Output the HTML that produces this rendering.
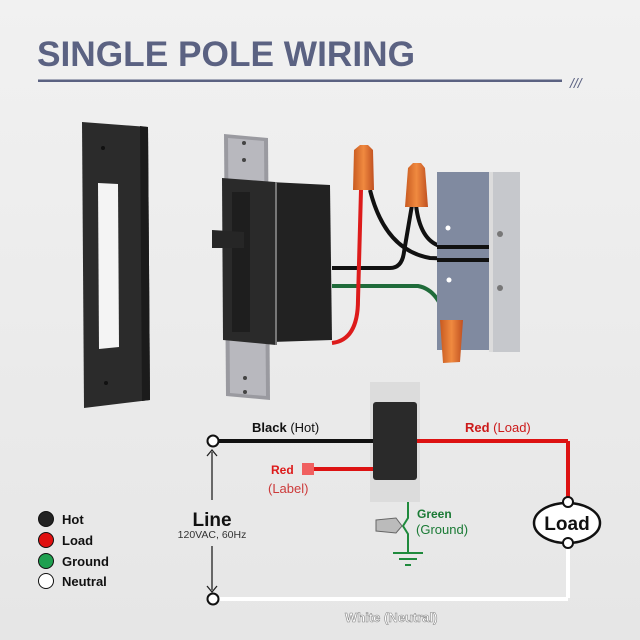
<!DOCTYPE html>
<html><head><meta charset="utf-8"><style>
html,body{margin:0;padding:0;background:#ececec}
svg{display:block}
text{font-family:"Liberation Sans",sans-serif}
</style></head><body>
<svg width="640" height="640" viewBox="0 0 640 640" xmlns="http://www.w3.org/2000/svg">
<defs>
<linearGradient id="bg" x1="0" y1="0" x2="0" y2="1"><stop offset="0" stop-color="#f1f1f1"/><stop offset="1" stop-color="#e6e6e6"/></linearGradient>
<linearGradient id="nut" x1="0" y1="0" x2="1" y2="0"><stop offset="0" stop-color="#c85a20"/><stop offset=".5" stop-color="#f08a40"/><stop offset="1" stop-color="#c05020"/></linearGradient>
</defs>
<rect width="640" height="640" fill="url(#bg)"/>
<!-- title -->
<text x="37" y="66" font-size="35" font-weight="bold" fill="#5b6282" textLength="378" lengthAdjust="spacingAndGlyphs">SINGLE POLE WIRING</text>
<rect x="38" y="79.5" width="524" height="2.5" fill="#5b6282"/>
<text x="570" y="88" font-size="14" fill="#5b6282" font-style="italic">///</text>

<!-- wall plate -->
<polygon points="82,122 148,127 150,400 84,408" fill="#2b2b2b"/>
<polygon points="140,126 148,127 150,400 142,401" fill="#1b1b1b"/>
<polygon points="98,183 118,184 119,347 99,349" fill="#f4f4f4"/>
<circle cx="103" cy="148" r="2" fill="#111"/><circle cx="106" cy="383" r="2" fill="#111"/>

<!-- switch strap -->
<polygon points="224,134 268,138 270,400 226,396" fill="#9a9aa0"/>
<polygon points="228,138 264,141 266,396 230,393" fill="#b8b8be"/>
<circle cx="244" cy="143" r="2" fill="#444"/><circle cx="244" cy="160" r="2" fill="#444"/>
<circle cx="245" cy="378" r="2" fill="#444"/><circle cx="245" cy="392" r="2" fill="#444"/>
<!-- switch body -->
<polygon points="270,182 330,185 332,340 272,342" fill="#222"/>
<polygon points="222,178 275,182 276,345 223,340" fill="#2a2a2a"/>
<rect x="232" y="192" width="18" height="140" fill="#1e1e1e"/>
<polygon points="212,230 244,232 244,248 212,248" fill="#262626"/>
<line x1="276" y1="182" x2="276" y2="345" stroke="#777" stroke-width="2"/>

<!-- wires -->
<path d="M332,268 L390,268 Q402,268 404,252 L412,205" stroke="#111" stroke-width="4" fill="none"/>
<path d="M370,190 Q385,250 430,258 L490,260" stroke="#111" stroke-width="4" fill="none"/>
<path d="M416,205 Q420,240 440,246 L490,247" stroke="#111" stroke-width="4" fill="none"/>
<path d="M332,286 L418,286 Q440,290 447,325" stroke="#1f6b3a" stroke-width="4" fill="none"/>
<path d="M453,325 Q460,290 488,285" stroke="#1f6b3a" stroke-width="4" fill="none"/>
<path d="M332,343 Q358,340 358,300 L361,190" stroke="#dd1b1b" stroke-width="4" fill="none"/>

<!-- junction box -->
<rect x="437" y="172" width="52" height="178" fill="#808aa0"/>
<rect x="489" y="172" width="31" height="180" fill="#c6c8cc"/>
<rect x="489" y="172" width="4" height="180" fill="#dcdcdc"/>
<circle cx="448" cy="228" r="2.5" fill="#fff"/><circle cx="449" cy="280" r="2.5" fill="#fff"/>
<circle cx="500" cy="234" r="3" fill="#777"/><circle cx="500" cy="288" r="3" fill="#777"/>
<rect x="437" y="245" width="52" height="4" fill="#111"/><rect x="437" y="258" width="52" height="4" fill="#111"/>

<!-- wire nuts -->
<polygon points="353,190 354,150 360,145 368,145 373,150 374,190" fill="url(#nut)"/>
<polygon points="405,207 408,168 413,163 421,163 425,168 428,207" fill="url(#nut)"/>
<polygon points="440,320 463,320 460,362 443,363" fill="url(#nut)"/>

<!-- schematic -->
<rect x="370" y="382" width="50" height="120" fill="#dcdcdc"/>
<rect x="373" y="402" width="44" height="78" rx="3" fill="#2a2a2a"/>
<line x1="213" y1="441" x2="373" y2="441" stroke="#111" stroke-width="4"/>
<line x1="417" y1="441" x2="568" y2="441" stroke="#dd1212" stroke-width="4"/>
<line x1="568" y1="441" x2="568" y2="500" stroke="#dd1212" stroke-width="4"/>
<line x1="313" y1="469" x2="373" y2="469" stroke="#dd1212" stroke-width="4"/>
<rect x="302" y="463" width="12" height="12" fill="#f06060"/>
<line x1="568" y1="544" x2="568" y2="598" stroke="#fff" stroke-width="4"/>
<line x1="213" y1="599" x2="568" y2="599" stroke="#fff" stroke-width="4"/>
<circle cx="213" cy="441" r="5.5" fill="#fff" stroke="#111" stroke-width="2"/>
<circle cx="213" cy="599" r="5.5" fill="#fff" stroke="#111" stroke-width="2"/>
<line x1="212" y1="452" x2="212" y2="500" stroke="#222" stroke-width="1.3"/>
<polyline points="207,456 212,450 217,456" stroke="#222" stroke-width="1.3" fill="none"/>
<line x1="212" y1="546" x2="212" y2="590" stroke="#222" stroke-width="1.3"/>
<polyline points="207,586 212,592 217,586" stroke="#222" stroke-width="1.3" fill="none"/>
<text x="212" y="526" font-size="19" font-weight="bold" text-anchor="middle" fill="#111">Line</text>
<text x="212" y="538" font-size="10.5" text-anchor="middle" fill="#333">120VAC, 60Hz</text>
<ellipse cx="567" cy="523" rx="33" ry="20" fill="#fff" stroke="#111" stroke-width="2.5"/>
<text x="567" y="530" font-size="19" font-weight="bold" text-anchor="middle" fill="#111">Load</text>
<circle cx="568" cy="502" r="5" fill="#fff" stroke="#111" stroke-width="2"/>
<circle cx="568" cy="543" r="5" fill="#fff" stroke="#111" stroke-width="2"/>
<path d="M408,502 L408,518 L403,526 L408,534 L408,553" stroke="#1f8a3c" stroke-width="2" fill="none"/>
<line x1="393" y1="553" x2="423" y2="553" stroke="#1f8a3c" stroke-width="2"/>
<line x1="399" y1="559" x2="417" y2="559" stroke="#1f8a3c" stroke-width="2"/>
<line x1="405" y1="565" x2="411" y2="565" stroke="#1f8a3c" stroke-width="2"/>
<polygon points="376,520 396,518 402,526 396,533 376,531" fill="#bbb" stroke="#666" stroke-width="1"/>
<text x="252" y="432" font-size="13" fill="#111"><tspan font-weight="bold">Black</tspan> (Hot)</text>
<text x="465" y="432" font-size="13" fill="#cc1a1a"><tspan font-weight="bold">Red</tspan> (Load)</text>
<text x="271" y="474" font-size="12" font-weight="bold" fill="#dd1a1a">Red</text>
<text x="268" y="493" font-size="13" fill="#cc3a3a">(Label)</text>
<text x="417" y="518" font-size="12" font-weight="bold" fill="#1a7a35">Green</text>
<text x="416" y="534" font-size="13" fill="#1a7a35">(Ground)</text>
<text x="345" y="622" font-size="13" font-weight="bold" fill="#fff" stroke="#888" stroke-width=".6">White (Neutral)</text>
<circle cx="46" cy="519" r="7.5" fill="#222" stroke="#111"/>
<circle cx="46" cy="540" r="7.5" fill="#e01010" stroke="#111"/>
<circle cx="46" cy="561" r="7.5" fill="#1fa050" stroke="#111"/>
<circle cx="46" cy="581" r="7.5" fill="#fff" stroke="#111"/>
<g font-size="13" font-weight="bold" fill="#111">
<text x="62" y="524">Hot</text><text x="62" y="545">Load</text><text x="62" y="566">Ground</text><text x="62" y="586">Neutral</text>
</g>
</svg>
</body></html>
